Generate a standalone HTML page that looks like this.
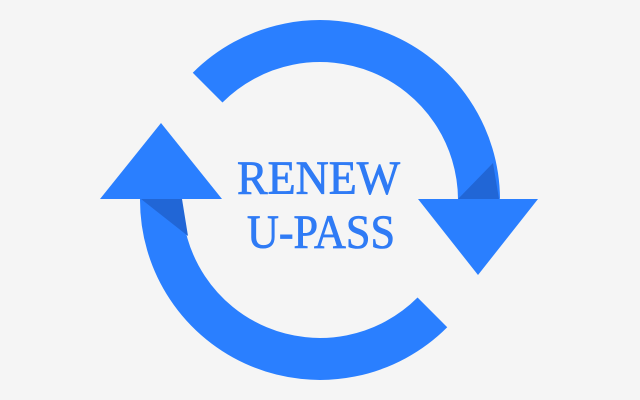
<!DOCTYPE html>
<html><head><style>
html,body{margin:0;padding:0;background:#f5f5f5;}
svg{display:block}
</style></head><body>
<svg width="640" height="400" viewBox="0 0 640 400">
<rect width="640" height="400" fill="#f5f5f5"/>
<path d="M207.6,87.6 A159,159 0 0 1 479,199" fill="none" stroke="#2a7fff" stroke-width="42"/>
<path d="M161,199 A159,159 0 0 0 432.4,312.4" fill="none" stroke="#2a7fff" stroke-width="42"/>
<polygon points="458,199 493,163 499,199" fill="#2166d6"/>
<polygon points="141,199 182,199 188,236" fill="#2166d6"/>
<polygon points="418,199 538,199 478,275" fill="#2a7fff"/>
<polygon points="100,199 222,199 161,123" fill="#2a7fff"/>
<text x="318.5" y="194" text-anchor="middle" font-family="Liberation Serif, serif" font-size="48" fill="#2f7bf5" stroke="#2f7bf5" stroke-width="0.8" textLength="163" lengthAdjust="spacingAndGlyphs">RENEW</text>
<text x="321" y="248" text-anchor="middle" font-family="Liberation Serif, serif" font-size="48" fill="#2f7bf5" stroke="#2f7bf5" stroke-width="0.8" textLength="148" lengthAdjust="spacingAndGlyphs">U-PASS</text>
</svg>
</body></html>
